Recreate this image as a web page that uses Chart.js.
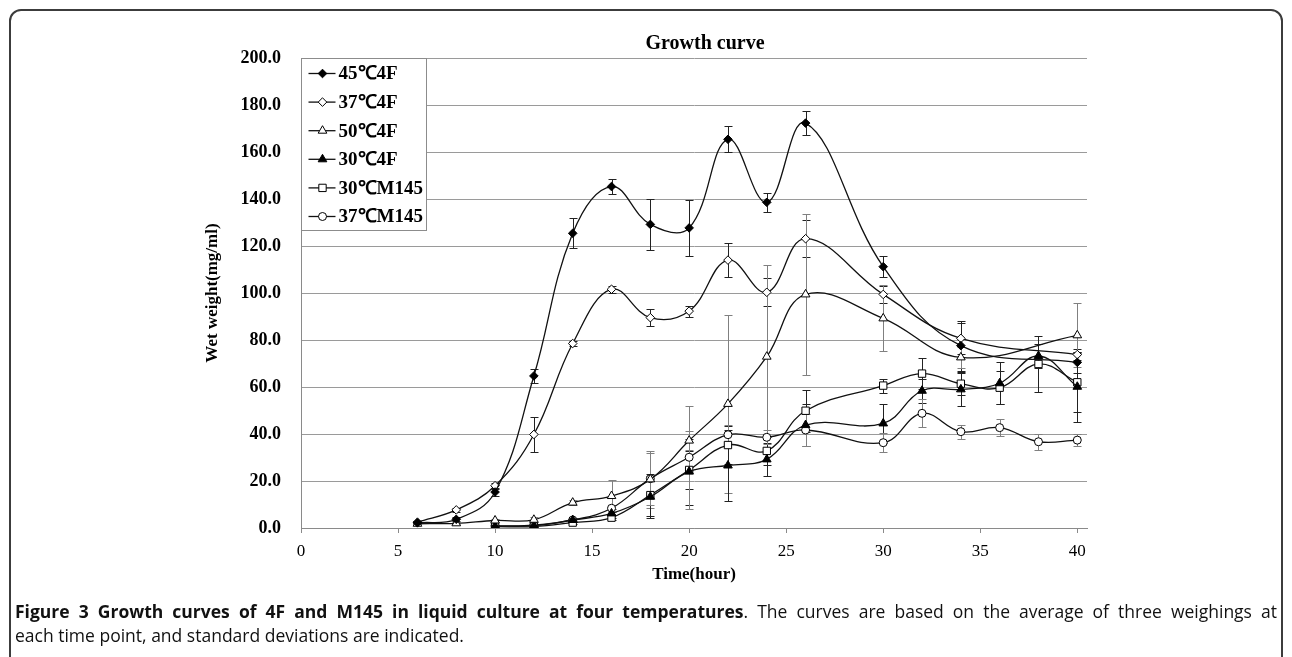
<!DOCTYPE html>
<html>
<head>
<meta charset="utf-8">
<script src="https://cdn.jsdelivr.net/npm/chart.js@4.4.1/dist/chart.umd.min.js"></script>
<style>
  html, body { margin: 0; padding: 0; background: #fff; }
  body { width: 1292px; height: 657px; position: relative; overflow: hidden; }
  #frame { position: absolute; left: 9px; top: 9px; width: 1274px; height: 720px; border: 2px solid #3c3c3c; border-radius: 12px; box-sizing: border-box; }
  #chart { position: absolute; left: 0; top: 0; }
  #title { position: absolute; left: 605px; top: 30px; width: 200px; text-align: center; font: bold 20px "Liberation Serif", serif; line-height: 24px; color: #000; }
  #caption { position: absolute; left: 15px; top: 599px; width: 1262px; font: 17.5px "Open Sans", sans-serif; line-height: 24px; color: #111; }
  #caption .l1 { text-align: justify; text-align-last: justify; white-space: nowrap; }
  #caption b { font-weight: 700; }
</style>
</head>
<body>
<div id="frame"></div>
<canvas id="chart" width="1292" height="600"></canvas>
<div id="title">Growth curve</div>
<div id="caption">
  <div class="l1"><b>Figure 3 Growth curves of 4F and M145 in liquid culture at four temperatures</b>. The curves are based on the average of three weighings at</div>
  <div>each time point, and standard deviations are indicated.</div>
</div>
<script>
// time points (hours)
const hours4F = [6, 8, 10, 12, 14, 16, 18, 20, 22, 24, 26, 30, 34, 40];
const hoursLow = [10, 12, 14, 16, 18, 20, 22, 24, 26, 30, 32, 34, 36, 38, 40];

const seriesNames = ["45℃4F", "37℃4F", "50℃4F", "30℃4F", "30℃M145", "37℃M145"];

// wet weight (mg/ml) and standard deviations
const w45_4F = [2.2, 3.7, 15.3, 64.7, 125.4, 145.3, 129.2, 127.7, 165.4, 138.6, 172.3, 111.2, 77.6, 70.5];
const sd45_4F = [0.6, 0.8, 1.6, 3.0, 6.4, 3.3, 10.7, 12.0, 5.6, 4.0, 5.0, 4.5, 10.6, 4.5];

const w37_4F = [2.5, 7.7, 18.0, 39.8, 78.5, 101.6, 89.5, 92.3, 114.0, 100.3, 123.1, 99.4, 80.7, 73.8];
const sd37_4F = [0.5, 0.8, 1.2, 7.6, 1.0, 1.5, 3.5, 2.3, 7.2, 6.0, 7.8, 3.5, 6.7, 2.5];

const w50_4F = [1.8, 2.0, 3.2, 3.5, 10.8, 13.6, 20.7, 37.2, 52.8, 72.9, 99.4, 89.2, 72.6, 82.0];
const sd50_4F = [0.5, 0.5, 0.5, 1.0, 1.0, 6.8, 12.0, 4.0, 38.0, 39.0, 34.3, 14.0, 4.6, 13.6];

const w30_4F = [0.8, 1.0, 3.4, 6.2, 13.3, 24.0, 26.6, 29.2, 43.8, 44.5, 58.4, 59.0, 61.6, 73.2, 60.1];
const sd30_4F = [0.3, 0.5, 1.0, 2.0, 9.0, 14.0, 15.0, 7.0, 9.0, 8.3, 5.0, 7.0, 9.0, 5.0, 15.0];

const w30_M145 = [0.6, 0.6, 2.3, 4.4, 14.0, 24.7, 35.3, 32.8, 49.9, 60.6, 65.7, 61.4, 59.7, 69.8, 62.0];
const sd30_M145 = [0.2, 0.3, 0.5, 1.0, 9.0, 8.0, 8.0, 6.0, 9.0, 3.0, 6.5, 5.0, 7.0, 11.9, 12.5];

const w37_M145 = [0.9, 1.2, 3.4, 8.4, 21.0, 30.1, 39.7, 38.6, 41.7, 36.3, 48.8, 41.0, 42.7, 36.7, 37.4];
const sd37_M145 = [0.3, 0.4, 1.0, 1.5, 11.0, 22.0, 4.0, 3.0, 7.0, 4.0, 6.0, 3.0, 3.5, 3.5, 2.5];

const SERIF = '"Liberation Serif", "Times New Roman", serif';

function pts(xs, ys) {
    return xs.map((h, i) => ({ x: h, y: ys[i] }));
}

function makeSeries(label, xs, ys, sds, style, radius, filled, errColor) {
    return {
        label: label,
        data: pts(xs, ys),
        sd: sds,
        errColor: errColor,
        borderColor: "#111",
        borderWidth: 1.3,
        tension: 0.4,
        fill: false,
        pointStyle: style,
        pointRadius: radius,
        pointHoverRadius: radius,
        pointBorderColor: "#000",
        pointBorderWidth: 1,
        pointBackgroundColor: filled ? "#000" : "#fff"
    };
}

const datasets = [
    makeSeries(seriesNames[0], hours4F, w45_4F, sd45_4F, "rectRot", 4.3, true, "#222"),
    makeSeries(seriesNames[1], hours4F, w37_4F, sd37_4F, "rectRot", 4.3, false, "#222"),
    makeSeries(seriesNames[2], hours4F, w50_4F, sd50_4F, "triangle", 5, false, "#808080"),
    makeSeries(seriesNames[3], hoursLow, w30_4F, sd30_4F, "triangle", 5, true, "#222"),
    makeSeries(seriesNames[4], hoursLow, w30_M145, sd30_M145, "rect", 5.2, false, "#222"),
    makeSeries(seriesNames[5], hoursLow, w37_M145, sd37_M145, "circle", 4, false, "#808080")
];

// vertical error bars with caps, placed through the chart scales
const errorBars = {
    id: "errorBars",
    beforeDatasetsDraw(chart) {
        const ctx = chart.ctx;
        const xs = chart.scales.x, ys = chart.scales.y;
        ctx.save();
        ctx.lineWidth = 1;
        chart.data.datasets.forEach(ds => {
            ctx.strokeStyle = ds.errColor;
            ds.data.forEach((p, j) => {
                const e = ds.sd[j];
                if (!e) return;
                const px = Math.round(xs.getPixelForValue(p.x)) + 0.5;
                const top = Math.round(ys.getPixelForValue(p.y + e)) + 0.5;
                const bot = Math.round(ys.getPixelForValue(Math.max(0, p.y - e))) + 0.5;
                ctx.beginPath();
                ctx.moveTo(px, top); ctx.lineTo(px, bot);
                ctx.moveTo(px - 4, top); ctx.lineTo(px + 4, top);
                ctx.moveTo(px - 4, bot); ctx.lineTo(px + 4, bot);
                ctx.stroke();
            });
        });
        ctx.restore();
    }
};

function drawMarker(ctx, style, r, x, y) {
    ctx.beginPath();
    if (style === "rectRot") {
        ctx.moveTo(x, y - r); ctx.lineTo(x + r, y); ctx.lineTo(x, y + r); ctx.lineTo(x - r, y);
        ctx.closePath();
    } else if (style === "triangle") {
        ctx.moveTo(x, y - r);
        ctx.lineTo(x + r * 0.866, y + r * 0.5);
        ctx.lineTo(x - r * 0.866, y + r * 0.5);
        ctx.closePath();
    } else if (style === "rect") {
        const s = r * Math.SQRT1_2;
        ctx.rect(x - s, y - s, 2 * s, 2 * s);
    } else {
        ctx.arc(x, y, r, 0, Math.PI * 2);
    }
    ctx.fill();
    ctx.stroke();
}

// boxed legend in the top-left corner of the plot
const boxLegend = {
    id: "boxLegend",
    afterDraw(chart) {
        const ctx = chart.ctx, a = chart.chartArea;
        const left = Math.round(a.left) + 0.5, top = Math.round(a.top) + 0.5;
        const w = 125, h = 172;
        ctx.save();
        ctx.fillStyle = "#fff";
        ctx.fillRect(left, top, w, h);
        ctx.strokeStyle = "#8c8c8c";
        ctx.lineWidth = 1;
        ctx.strokeRect(left, top, w, h);
        chart.data.datasets.forEach((ds, i) => {
            const cy = top + 15 + i * 28.6;
            ctx.strokeStyle = "#111";
            ctx.lineWidth = 1.3;
            ctx.beginPath();
            ctx.moveTo(left + 7, cy); ctx.lineTo(left + 34, cy);
            ctx.stroke();
            ctx.fillStyle = ds.pointBackgroundColor;
            ctx.strokeStyle = "#000";
            ctx.lineWidth = 1;
            drawMarker(ctx, ds.pointStyle, ds.pointRadius, left + 21, cy);
            ctx.fillStyle = "#000";
            ctx.font = "bold 19px " + SERIF;
            ctx.textBaseline = "middle";
            ctx.textAlign = "left";
            ctx.fillText(ds.label, left + 37, cy + 1);
        });
        ctx.restore();
    }
};

Chart.defaults.font.family = SERIF;
Chart.defaults.color = "#000";

new Chart(document.getElementById("chart"), {
    type: "line",
    data: { datasets: datasets },
    options: {
        responsive: false,
        animation: false,
        layout: { padding: { left: 190, right: 205, top: 58, bottom: 8 } },
        plugins: {
            legend: { display: false },
            title: { display: false },
            tooltip: { enabled: false }
        },
        scales: {
            x: {
                type: "linear",
                min: 0,
                max: 40.5,
                afterFit: s => { s.height = 64; },
                border: { color: "#8a8a8a", width: 1 },
                grid: { drawOnChartArea: false, drawTicks: true, tickLength: 5, color: "#8a8a8a" },
                ticks: { stepSize: 5, includeBounds: false, padding: 8, maxRotation: 0, font: { size: 17 }, color: "#000" },
                title: { display: true, text: "Time(hour)", font: { size: 17, weight: "bold" }, color: "#000", padding: { top: 0, bottom: 7 } }
            },
            y: {
                min: 0,
                max: 200,
                afterFit: s => { s.width = 111; },
                border: { color: "#8a8a8a", width: 1 },
                grid: { color: "#9a9a9a", lineWidth: 1, drawTicks: false },
                ticks: { stepSize: 20, padding: 20, font: { size: 18, weight: "bold" }, color: "#000", callback: v => v.toFixed(1) },
                title: { display: true, text: "Wet weight(mg/ml)", font: { size: 17, weight: "bold" }, color: "#000", padding: { top: 12, bottom: 0 } }
            }
        }
    },
    plugins: [errorBars, boxLegend]
});
</script>
</body>
</html>
